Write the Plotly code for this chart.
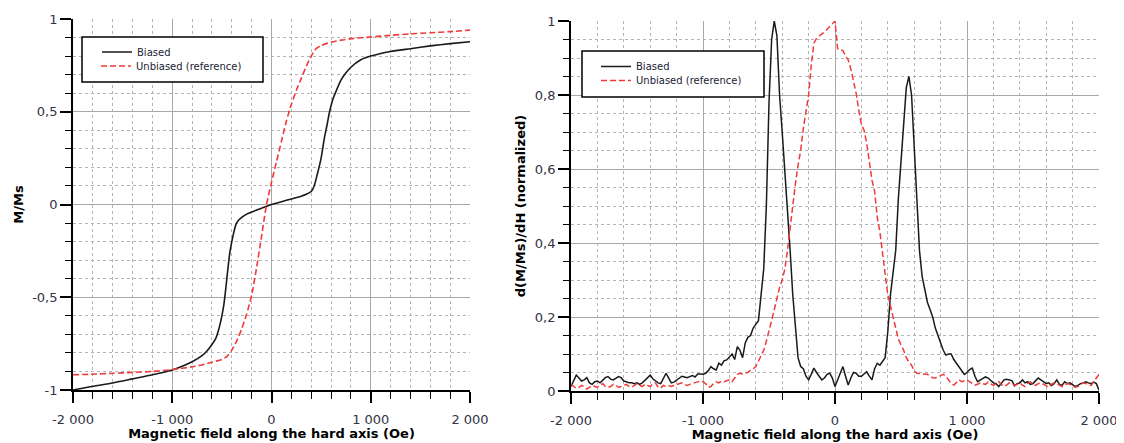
import plotly.graph_objects as go

# ---------------- data ----------------
# Left panel: magnetization curves
H_biased = [-2000, -1800, -1600, -1400, -1200, -1000, -900, -800, -700, -650, -600, -560, -530, -500,
            -480, -460, -440, -420, -400, -380, -360, -340, -300, -250, -200, -100, 0, 100, 200, 300,
            350, 400, 430, 460, 500, 530, 560, 585, 620, 650, 700, 750, 800, 900, 1000, 1200, 1400,
            1600, 1800, 2000]
M_biased = [-1.0, -0.98, -0.962, -0.94, -0.918, -0.892, -0.872, -0.848, -0.815, -0.79, -0.755, -0.72,
            -0.67, -0.6, -0.54, -0.45, -0.35, -0.26, -0.2, -0.15, -0.11, -0.09, -0.07, -0.052, -0.04,
            -0.02, 0.0, 0.015, 0.03, 0.045, 0.055, 0.07, 0.1, 0.16, 0.25, 0.35, 0.43, 0.5, 0.57, 0.61,
            0.67, 0.71, 0.74, 0.78, 0.8, 0.825, 0.84, 0.855, 0.867, 0.877]

H_ref = [-2000, -1800, -1600, -1400, -1200, -1000, -800, -700, -600, -500, -450, -400, -350, -300,
         -250, -200, -150, -100, -50, 0, 50, 100, 150, 200, 250, 300, 350, 400, 450, 500, 600, 700,
         800, 1000, 1200, 1400, 1600, 1800, 2000]
M_ref = [-0.918, -0.915, -0.91, -0.905, -0.9, -0.89, -0.875, -0.865, -0.85, -0.835, -0.82, -0.785,
         -0.735, -0.67, -0.59, -0.49, -0.34, -0.17, 0.0, 0.12, 0.23, 0.34, 0.45, 0.54, 0.615, 0.68,
         0.745, 0.8, 0.84, 0.857, 0.875, 0.886, 0.894, 0.903, 0.912, 0.92, 0.926, 0.932, 0.94]

# Right panel: normalized derivative, sampled every 20 Oe from -2000 to 2000
H_deriv = list(range(-2000, 2001, 20))
D_biased = [
    0.012, 0.028, 0.043, 0.035, 0.027, 0.03, 0.036, 0.022, 0.018, 0.025, 0.027, 0.022, 0.03, 0.036, 0.039, 0.032, 0.03, 0.034, 0.039, 0.036,
    0.027, 0.025, 0.022, 0.022, 0.02, 0.022, 0.018, 0.022, 0.03, 0.038, 0.043, 0.033, 0.027, 0.022, 0.02, 0.035, 0.048, 0.035, 0.022, 0.024,
    0.03, 0.035, 0.04, 0.038, 0.036, 0.039, 0.042, 0.038, 0.046, 0.046, 0.045, 0.048, 0.055, 0.066, 0.06, 0.057, 0.075, 0.07, 0.082, 0.084,
    0.092, 0.1, 0.085, 0.12, 0.11, 0.09, 0.13, 0.145, 0.15, 0.17, 0.18, 0.19, 0.26, 0.33, 0.5, 0.78, 0.95, 1.0, 0.96, 0.8,
    0.7, 0.6, 0.5, 0.38, 0.26, 0.17, 0.09, 0.066, 0.06, 0.04, 0.03, 0.045, 0.062, 0.05, 0.04, 0.03, 0.035, 0.045, 0.048, 0.035,
    0.012, 0.03, 0.05, 0.066, 0.04, 0.016, 0.035, 0.05, 0.048, 0.04, 0.04, 0.045, 0.052, 0.04, 0.03, 0.06, 0.075, 0.07, 0.08, 0.09,
    0.16, 0.26, 0.32, 0.38, 0.52, 0.62, 0.72, 0.82, 0.85, 0.8, 0.66, 0.52, 0.38, 0.31, 0.27, 0.24, 0.22, 0.2, 0.17, 0.15,
    0.13, 0.11, 0.097, 0.1, 0.1, 0.085, 0.075, 0.065, 0.055, 0.045, 0.05, 0.058, 0.062, 0.04, 0.025, 0.03, 0.034, 0.038, 0.035, 0.028,
    0.022, 0.02, 0.012, 0.02, 0.03, 0.032, 0.03, 0.028, 0.014, 0.02, 0.022, 0.03, 0.022, 0.025, 0.018, 0.02, 0.028, 0.035, 0.03, 0.025,
    0.02, 0.022, 0.015, 0.02, 0.03, 0.018, 0.015, 0.025, 0.02, 0.022, 0.018, 0.012, 0.015, 0.02, 0.022, 0.025, 0.022, 0.02, 0.024, 0.02,
    0.002]
D_ref = [
    0.018, 0.012, 0.007, 0.01, 0.015, 0.012, 0.005, 0.01, 0.015, 0.012, 0.01, 0.015, 0.02, 0.012, 0.01, 0.012, 0.018, 0.015, 0.01, 0.012,
    0.015, 0.018, 0.012, 0.01, 0.015, 0.02, 0.015, 0.012, 0.018, 0.015, 0.012, 0.02, 0.022, 0.01, 0.008, 0.015, 0.012, 0.015, 0.012, 0.015,
    0.018, 0.02, 0.022, 0.018, 0.015, 0.018, 0.02, 0.022, 0.025, 0.027, 0.025, 0.02, 0.01, 0.012, 0.02, 0.025, 0.022, 0.027, 0.025, 0.028,
    0.03, 0.025, 0.035, 0.045, 0.048, 0.046, 0.048, 0.05, 0.057, 0.06, 0.066, 0.08, 0.095, 0.11, 0.135, 0.16, 0.19, 0.22, 0.25, 0.28,
    0.3, 0.33, 0.38, 0.44, 0.51, 0.56, 0.61, 0.65, 0.71, 0.76, 0.8, 0.88, 0.94, 0.953, 0.96, 0.965, 0.97, 0.977, 0.985, 0.993,
    1.0, 0.925, 0.922, 0.92, 0.905, 0.895, 0.87, 0.836, 0.805, 0.76, 0.72, 0.705, 0.67, 0.62, 0.57, 0.54, 0.47, 0.43, 0.37, 0.31,
    0.26, 0.23, 0.2, 0.17, 0.14, 0.125, 0.11, 0.09, 0.078, 0.07, 0.055, 0.048, 0.047, 0.045, 0.044, 0.045, 0.04, 0.036, 0.035, 0.038,
    0.04, 0.045, 0.04, 0.03, 0.02, 0.016, 0.022, 0.03, 0.025, 0.028, 0.03, 0.025, 0.02, 0.016, 0.018, 0.022, 0.02, 0.018, 0.024, 0.02,
    0.015, 0.02, 0.025, 0.018, 0.012, 0.016, 0.022, 0.02, 0.015, 0.018, 0.022, 0.016, 0.012, 0.02, 0.025, 0.018, 0.015, 0.02, 0.022, 0.018,
    0.015, 0.01, 0.018, 0.022, 0.02, 0.015, 0.012, 0.016, 0.02, 0.018, 0.015, 0.01, 0.012, 0.018, 0.022, 0.02, 0.018, 0.015, 0.025, 0.035,
    0.045]

x_tick_vals = [-2000, -1000, 0, 1000, 2000]
x_tick_text = ["-2 000", "-1 000", "0", "1 000", "2 000"]
y1_tick_vals = [-1, -0.5, 0, 0.5, 1]
y1_tick_text = ["-1", "-0,5", "0", "0,5", "1"]
y2_tick_vals = [0, 0.2, 0.4, 0.6, 0.8, 1]
y2_tick_text = ["0", "0,2", "0,4", "0,6", "0,8", "1"]

x_title = "Magnetic field along the hard axis (Oe)"
y1_title = "M/Ms"
y2_title = "d(M/Ms)/dH (normalized)"
name_biased = "Biased"
name_ref = "Unbiased (reference)"

# ---------------- styles ----------------
# The page body has an 8 px margin, so the figure is drawn 8 px smaller and
# reference (screen) pixel positions are shifted by 8 px.
OFF = 8
W, Hpx = 1124 - OFF, 443 - OFF
BLACK_LINE = "#1a1a1a"
RED_LINE = "#f03a3a"
GRID_MAJOR = "#a8a8a8"
GRID_MINOR = "#b4b4b4"
FONT = "DejaVu Sans"


def px_x(p):
    return (p - OFF) / W


def px_y(p):
    return 1 - (p - OFF) / Hpx


fig = go.Figure()

fig.add_trace(go.Scatter(x=H_biased, y=M_biased, mode="lines", name=name_biased,
                         line=dict(color=BLACK_LINE, width=1.6, shape="spline", smoothing=0.6),
                         xaxis="x", yaxis="y", legend="legend"))
fig.add_trace(go.Scatter(x=H_ref, y=M_ref, mode="lines", name=name_ref,
                         line=dict(color=RED_LINE, width=1.6, dash="6px,3px", shape="spline", smoothing=0.6),
                         xaxis="x", yaxis="y", legend="legend2"))
fig.add_trace(go.Scatter(x=H_deriv, y=D_biased, mode="lines", name=name_biased,
                         line=dict(color=BLACK_LINE, width=1.5),
                         xaxis="x2", yaxis="y2", legend="legend3"))
fig.add_trace(go.Scatter(x=H_deriv, y=D_ref, mode="lines", name=name_ref,
                         line=dict(color=RED_LINE, width=1.5, dash="6px,3px"),
                         xaxis="x2", yaxis="y2", legend="legend4"))


def xaxis_cfg(domain, anchor):
    return dict(
        domain=domain, anchor=anchor, range=[-2000, 2000], autorange=False,
        tickmode="array", tickvals=x_tick_vals, ticktext=x_tick_text,
        ticks="outside", ticklen=11, tickwidth=1.5, tickcolor="black",
        showline=True, linecolor="black", linewidth=1.8,
        showgrid=True, gridcolor=GRID_MAJOR, gridwidth=1.3, zeroline=False,
        tickfont=dict(family=FONT, size=13, color="#333344"),
        ticklabelstandoff=5,
        title=dict(text="<b>" + x_title + "</b>", standoff=1,
                   font=dict(family=FONT, size=13, color="black")),
        minor=dict(tickmode="linear", tick0=-2000, dtick=200, ticks="outside", ticklen=7,
                   tickwidth=1.3, tickcolor="black", showgrid=True, gridcolor=GRID_MINOR,
                   gridwidth=1, griddash="dot"),
        automargin=False, fixedrange=True,
    )


def yaxis_cfg(domain, anchor, rng, vals, text, minor_dtick, title):
    return dict(
        domain=domain, anchor=anchor, range=rng, autorange=False,
        tickmode="array", tickvals=vals, ticktext=text,
        ticks="outside", ticklen=11, tickwidth=1.5, tickcolor="black",
        showline=True, linecolor="black", linewidth=1.8,
        showgrid=True, gridcolor=GRID_MAJOR, gridwidth=1.3, zeroline=False,
        tickfont=dict(family=FONT, size=13, color="#333344"),
        title=dict(text="<b>" + title + "</b>", standoff=6,
                   font=dict(family=FONT, size=13, color="black")),
        minor=dict(tickmode="linear", tick0=rng[0], dtick=minor_dtick, ticks="outside", ticklen=6,
                   tickwidth=1.3, tickcolor="black", showgrid=True, gridcolor=GRID_MINOR,
                   gridwidth=1, griddash="dot"),
        automargin=False, fixedrange=True,
    )


def legend_cfg(text_x, row_y):
    return dict(x=px_x(text_x - 41), y=px_y(row_y), xanchor="left", yanchor="middle",
                bgcolor="rgba(0,0,0,0)", borderwidth=0, itemwidth=30,
                font=dict(family=FONT, size=10, color="#222233"))


fig.update_layout(
    width=W, height=Hpx,
    margin=dict(l=0, r=0, t=0, b=0),
    paper_bgcolor="white", plot_bgcolor="white",
    font=dict(family=FONT, size=12, color="black"),
    xaxis=xaxis_cfg([px_x(73), px_x(470)], "y"),
    yaxis=yaxis_cfg([px_y(390), px_y(19)], "x", [-1, 1], y1_tick_vals, y1_tick_text, 0.1, y1_title),
    xaxis2=xaxis_cfg([px_x(571), px_x(1099)], "y2"),
    yaxis2=yaxis_cfg([px_y(391), px_y(21)], "x2", [0, 1], y2_tick_vals, y2_tick_text, 0.05, y2_title),
    legend=legend_cfg(138, 52),
    legend2=legend_cfg(137, 66),
    legend3=legend_cfg(637, 66.5),
    legend4=legend_cfg(637, 80.5),
    shapes=[
        dict(type="rect", xref="paper", yref="paper", layer="above",
             x0=px_x(82), x1=px_x(263), y0=px_y(82), y1=px_y(37),
             line=dict(color="black", width=1.5), fillcolor="white"),
        dict(type="rect", xref="paper", yref="paper", layer="above",
             x0=px_x(582), x1=px_x(764), y0=px_y(97), y1=px_y(51),
             line=dict(color="black", width=1.5), fillcolor="white"),
    ],
    showlegend=True,
)

fig.write_html("out.html")
